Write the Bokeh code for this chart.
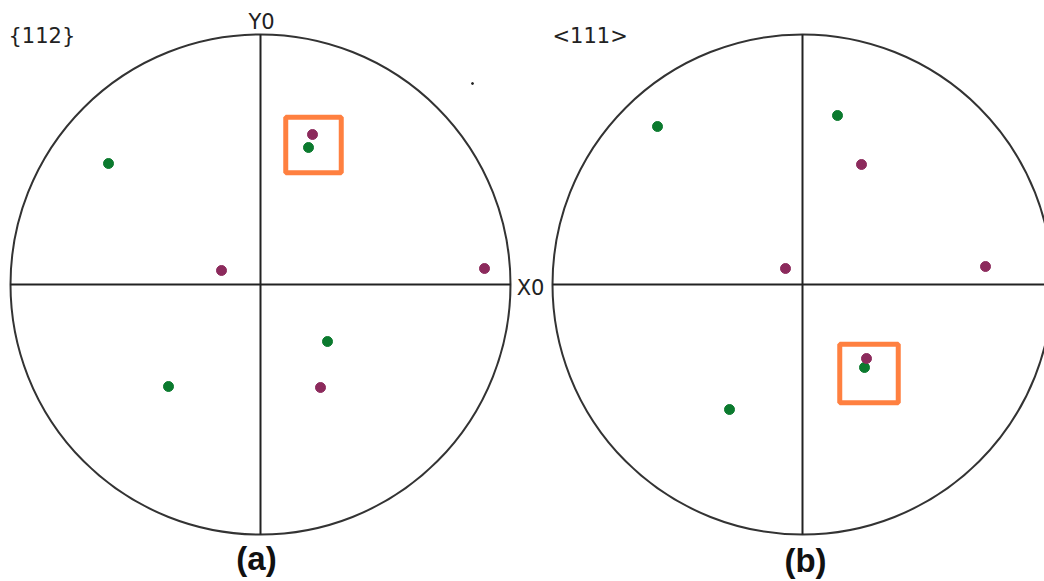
from bokeh.plotting import figure
from bokeh.models import Range1d
from bokeh.embed import file_html
from bokeh.resources import INLINE
from bokeh.core.properties import value

# Pole figures in stereographic projection units (radius = 1)
OFFSET_B = 2.168  # centre of pole figure (b), in radii

# (a) {112}
a_green_x = [-0.608, 0.192, 0.268, -0.368]
a_green_y = [0.484, 0.548, -0.228, -0.408]
a_purple_x = [0.208, -0.156, 0.896, 0.240]
a_purple_y = [0.600, 0.056, 0.064, -0.412]

# (b) <111>
b_green_x = [-0.580, 0.140, -0.292, 0.248]
b_green_y = [0.632, 0.676, -0.500, -0.332]
b_purple_x = [0.236, -0.068, 0.732, 0.256]
b_purple_y = [0.480, 0.064, 0.072, -0.296]

# highlighted pair (box centre x, y, side)
box_x = [0.212, 0.266]
box_y = [0.558, -0.356]
box_side = [0.222, 0.234]

stray_x = [0.848]
stray_y = [0.804]

GREEN = "#0b7a2e"
PURPLE = "#8c2a5c"
ORANGE = "#ff8040"
INK = "#222222"

W, H = 1044, 581
PX = 250.0  # pixels per radius
x0 = -1.04
y1 = 1.136
p = figure(width=W, height=H, output_backend="svg", toolbar_location=None,
           x_range=Range1d(x0, x0 + W / PX), y_range=Range1d(y1 - H / PX, y1),
           min_border=0, outline_line_color=None)
p.axis.visible = False
p.grid.visible = False
p.background_fill_color = "white"

centres = [0.0, OFFSET_B]

# outer circles
p.circle(x=centres, y=[0, 0], radius=1.0, fill_color=None,
         line_color="#333333", line_width=2)
# cross-hairs
p.segment(x0=centres, y0=[-1, -1], x1=centres, y1=[1, 1], line_color=INK, line_width=2)
p.segment(x0=[c - 1 for c in centres], y0=[0, 0], x1=[c + 1 for c in centres], y1=[0, 0],
          line_color=INK, line_width=2)

# highlight boxes
bx = [box_x[0], box_x[1] + OFFSET_B]
p.rect(x=bx, y=box_y, width=box_side, height=box_side, fill_color=None,
       line_color=ORANGE, line_width=5)

# poles
p.scatter(a_green_x, a_green_y, size=10, color=GREEN)
p.scatter(a_purple_x, a_purple_y, size=10, color=PURPLE)
p.scatter([x + OFFSET_B for x in b_green_x], b_green_y, size=10, color=GREEN)
p.scatter([x + OFFSET_B for x in b_purple_x], b_purple_y, size=10, color=PURPLE)
p.scatter(stray_x, stray_y, size=2, color=INK)

# labels
small = dict(text_font=value("DejaVu Sans"), text_font_size="21px", text_color=INK,
             text_baseline="middle")
p.text(x=[-1.008], y=[0.996], text=["{112}"], text_align="left", **small)
p.text(x=[OFFSET_B - 1.0], y=[0.996], text=["<111>"], text_align="left", **small)
p.text(x=[0.004], y=[1.052], text=["Y0"], text_align="center", **small)
p.text(x=[1.08], y=[-0.012], text=["X0"], text_align="center", **small)

big = dict(text_font=value("Liberation Sans"), text_font_size="33px", text_color="#111111",
           text_font_style="bold", text_baseline="middle", text_align="center")
p.text(x=[-0.016], y=[-1.096], text=["(a)"], **big)
p.text(x=[OFFSET_B + 0.012], y=[-1.104], text=["(b)"], **big)

open("out.html", "w").write(file_html(p, INLINE))
